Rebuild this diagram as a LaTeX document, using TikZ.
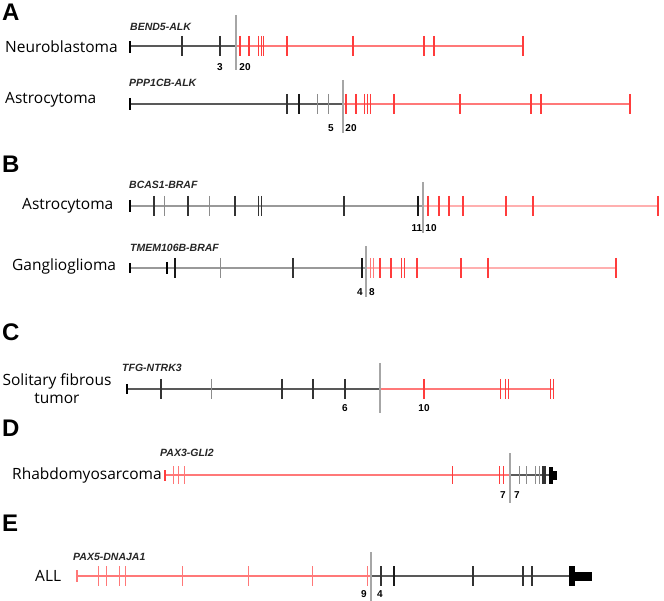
\documentclass[tikz,border=0pt]{standalone}
\usepackage{fontspec}
\setmainfont{Liberation Sans}
\newfontfamily\labfont{Open Sans}
\definecolor{rd}{RGB}{255,60,60}
\definecolor{rdl}{RGB}{255,120,120}
\definecolor{rdp}{RGB}{255,175,175}
\newcommand\tks[4]{\foreach \xx in {#4} \draw[#1] (\xx,#2) -- (\xx,#3);}
\begin{document}
\begin{tikzpicture}[x=1pt,y=-1pt,
  panel/.style={font=\fontsize{24}{24}\selectfont\bfseries, anchor=west, inner sep=0pt},
  tumor/.style={font=\labfont\fontsize{15.5}{18}\selectfont, anchor=west, inner sep=0pt},
  gene/.style={font=\fontsize{10.5}{12}\selectfont\bfseries\itshape, anchor=west, inner sep=0pt, text=black!85},
  num/.style={font=\fontsize{10}{12}\selectfont\bfseries, inner sep=0pt},
  gl/.style={draw=black!65, line width=1.1pt},
  glp/.style={draw=black!40, line width=1.1pt},
  rl/.style={draw=rdl, line width=1.3pt},
  rlp/.style={draw=rdp, line width=1.3pt},
  tb/.style={draw=black!80, line width=1.2pt},
  tB/.style={draw=black!90, line width=2.4pt},
  tg/.style={draw=black!45, line width=0.8pt},
  tr/.style={draw=rd, line width=1.3pt},
  trt/.style={draw=rd, line width=0.9pt},
  tR/.style={draw=rd, line width=2.4pt},
  trl/.style={draw=rdl, line width=1pt},
  brk/.style={draw=black!35, line width=1.4pt}]
\useasboundingbox (0,0) rectangle (664,601);

% ---------- A ----------
\node[panel] (pA) at (2,12) {A};
\node[gene] (gA1) at (130,27) {BEND5-ALK};
\node[tumor] (tA1) at (5,47) {Neuroblastoma};
\draw[gl] (130,46) -- (236,46);
\draw[rl] (236,46) -- (523,46);
\draw[line width=2pt, black] (130,41) -- (130,53);
\tks{tb}{36}{56}{182,220}
\tks{tr}{36}{56}{240,249,287,353,424,434,523}
\tks{trt}{36}{56}{258.5,261,263.5}
\draw[brk] (236,15) -- (236,70);
\node[num] (nA1a) at (220,67) {3};
\node[num] (nA1b) at (245,67) {20};

\node[gene] (gA2) at (129,83) {PPP1CB-ALK};
\node[tumor] (tA2) at (5,100) {Astrocytoma};
\draw[gl] (130,104) -- (343,104);
\draw[rl] (343,104) -- (630,104);
\draw[line width=2pt, black] (130,98) -- (130,110);
\tks{tb}{94}{114}{287}
\tks{tB}{94}{114}{299}
\tks{tg}{94}{114}{317,328}
\tks{tr}{94}{114}{346,356,394,460,531,541,630}
\tks{trt}{94}{114}{364.5,367,370}
\draw[brk] (343,80) -- (343,133);
\node[num] (nA2a) at (331,128) {5};
\node[num] (nA2b) at (351,128) {20};

% ---------- B ----------
\node[panel] (pB) at (2,164) {B};
\node[gene] (gB1) at (129,185) {BCAS1-BRAF};
\node[tumor] (tB1) at (22,206) {Astrocytoma};
\draw[glp] (130,206) -- (423,206);
\draw[rlp] (423,206) -- (658,206);
\draw[line width=2.4pt, black] (130,200) -- (130,212);
\tks{tb}{196}{216}{154,188,235,344}
\tks{tb}{196}{216}{258.5,261.5}
\tks{tg}{196}{216}{164,209}
\tks{tB}{196}{216}{418}
\tks{tr}{196}{216}{428,439,506,533,658}
\tks{tR}{196}{216}{449,463}
\draw[brk] (423,182) -- (423,233);
\node[num] (nB1a) at (417,228) {11};
\node[num] (nB1b) at (431,228) {10};

\node[gene] (gB2) at (130,248) {TMEM106B-BRAF};
\node[tumor] (tB2) at (12,266) {Ganglioglioma};
\draw[glp] (130,268) -- (366,268);
\draw[rlp] (366,268) -- (616,268);
\draw[line width=2pt, black] (130,263) -- (130,273);
\draw[line width=2pt, black] (167,262) -- (167,274);
\tks{tB}{258}{278}{175,362}
\tks{tg}{258}{278}{220}
\tks{tb}{258}{278}{293}
\tks{trl}{258}{278}{370,373}
\tks{tr}{258}{278}{380,391,417,461,488,616}
\tks{trt}{258}{278}{401.5,404}
\draw[brk] (366,246) -- (366,297);
\node[num] (nB2a) at (360,292) {4};
\node[num] (nB2b) at (372,292) {8};

% ---------- C ----------
\node[panel] (pC) at (2,332) {C};
\node[gene] (gC) at (122,368) {TFG-NTRK3};
\node[tumor, anchor=center, align=center] (tC) at (57,389) {Solitary fibrous\\tumor};
\draw[gl] (127,389) -- (380,389);
\draw[rl] (380,389) -- (554,389);
\draw[line width=2pt, black] (127,384) -- (127,394);
\tks{tb}{379}{399}{161,282,313,345}
\tks{tg}{379}{399}{211}
\tks{tr}{379}{399}{424}
\tks{trt}{379}{399}{500,505,508,550.5,553.5}
\draw[brk] (380,363) -- (380,413);
\node[num] (nCa) at (345,408) {6};
\node[num] (nCb) at (424,408) {10};

% ---------- D ----------
\node[panel] (pD) at (2,428) {D};
\node[gene] (gD) at (160,453) {PAX3-GLI2};
\node[tumor] (tD) at (12,475) {Rhabdomyosarcoma};
\draw[rl] (165,475) -- (510,475);
\draw[gl] (510,475) -- (549,475);
\draw[line width=2pt, rd] (165,470) -- (165,481);
\tks{trl}{466}{484}{173,178,184}
\tks{trt}{466}{484}{452,499,503}
\tks{tg}{466}{484}{519,526,535,539}
\tks{tb}{466}{484}{543,545}
\fill[black] (549,467) rectangle (553,484);
\fill[black] (553,471) rectangle (557,480);
\draw[brk] (510,453) -- (510,503);
\node[num] (nDa) at (503,495) {7};
\node[num] (nDb) at (517,495) {7};

% ---------- E ----------
\node[panel] (pE) at (2,523) {E};
\node[gene] (gE) at (73,557) {PAX5-DNAJA1};
\node[tumor] (tE) at (35,576) {ALL};
\draw[rl] (77,576) -- (371,576);
\draw[gl] (371,576) -- (569,576);
\draw[line width=1.5pt, rdl] (77,570) -- (77,582);
\tks{trl}{566}{586}{98,106,119,125,182,248,312,367}
\tks{tb}{566}{586}{381,473,523,532}
\tks{tB}{566}{586}{394}
\fill[black] (569,566) rectangle (575,586);
\fill[black] (575,572) rectangle (592,581);
\draw[brk] (371,552) -- (371,601);
\node[num] (nEa) at (364,594) {9};
\node[num] (nEb) at (380,594) {4};
\end{tikzpicture}
\end{document}
